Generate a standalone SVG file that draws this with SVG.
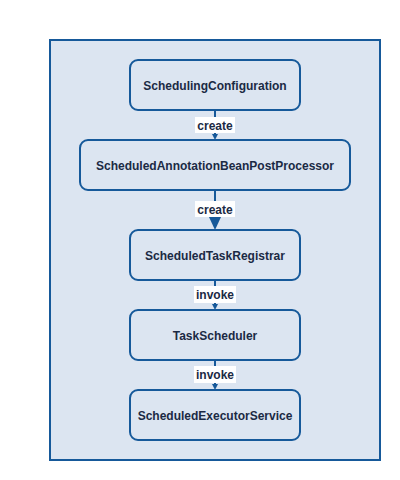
<svg xmlns="http://www.w3.org/2000/svg" width="400" height="480" viewBox="0 0 400 480">
<style>
.frame{fill:#dce5f1;stroke:#16599a;stroke-width:2}
.node rect{fill:#dce5f1;stroke:#16599a;stroke-width:2}
.node text{font-family:"Liberation Sans",Arial,sans-serif;font-size:12px;font-weight:bold;fill:#1b2a44;text-anchor:middle}
.edge{stroke:#16599a;stroke-width:2;fill:none}
.lbl rect{fill:#ffffff}
.lbl text{font-family:"Liberation Sans",Arial,sans-serif;font-size:12px;font-weight:bold;fill:#1b2a44;text-anchor:middle}
.head{fill:#16599a}
</style>
<rect width="400" height="480" fill="#ffffff"/>
<rect class="frame" x="50" y="40" width="330" height="420"/>
<g id="connectors">
<line class="edge" x1="215" y1="110" x2="215" y2="134"/>
<polygon class="head" points="212,134 218,134 215,140"/>
<line class="edge" x1="215" y1="190" x2="215" y2="218"/>
<polygon class="head" points="209,217 221,217 215,230"/>
<line class="edge" x1="215" y1="280" x2="215" y2="304"/>
<polygon class="head" points="212,304 218,304 215,310"/>
<line class="edge" x1="215" y1="360" x2="215" y2="384"/>
<polygon class="head" points="212,384 218,384 215,390"/>
<g class="lbl"><rect x="195" y="117" width="40" height="16"/><text x="215" y="129.5">create</text></g>
<g class="lbl"><rect x="195" y="201" width="40" height="16"/><text x="215" y="213.5">create</text></g>
<g class="lbl"><rect x="194" y="286" width="42" height="17"/><text x="215" y="298.5">invoke</text></g>
<g class="lbl"><rect x="194" y="366" width="42" height="17"/><text x="215" y="378.5">invoke</text></g>
</g>
<g id="n1" class="node"><rect x="130" y="60" width="170" height="50" rx="8"/><text x="215" y="89.5">SchedulingConfiguration</text></g>
<g id="n2" class="node"><rect x="80" y="140" width="270" height="50" rx="8"/><text x="215" y="169.5">ScheduledAnnotationBeanPostProcessor</text></g>
<g id="n3" class="node"><rect x="130" y="230" width="170" height="50" rx="8"/><text x="215" y="259.5">ScheduledTaskRegistrar</text></g>
<g id="n4" class="node"><rect x="130" y="310" width="170" height="50" rx="8"/><text x="215" y="339.5">TaskScheduler</text></g>
<g id="n5" class="node"><rect x="130" y="390" width="170" height="50" rx="8"/><text x="215" y="419.5">ScheduledExecutorService</text></g>
</svg>
